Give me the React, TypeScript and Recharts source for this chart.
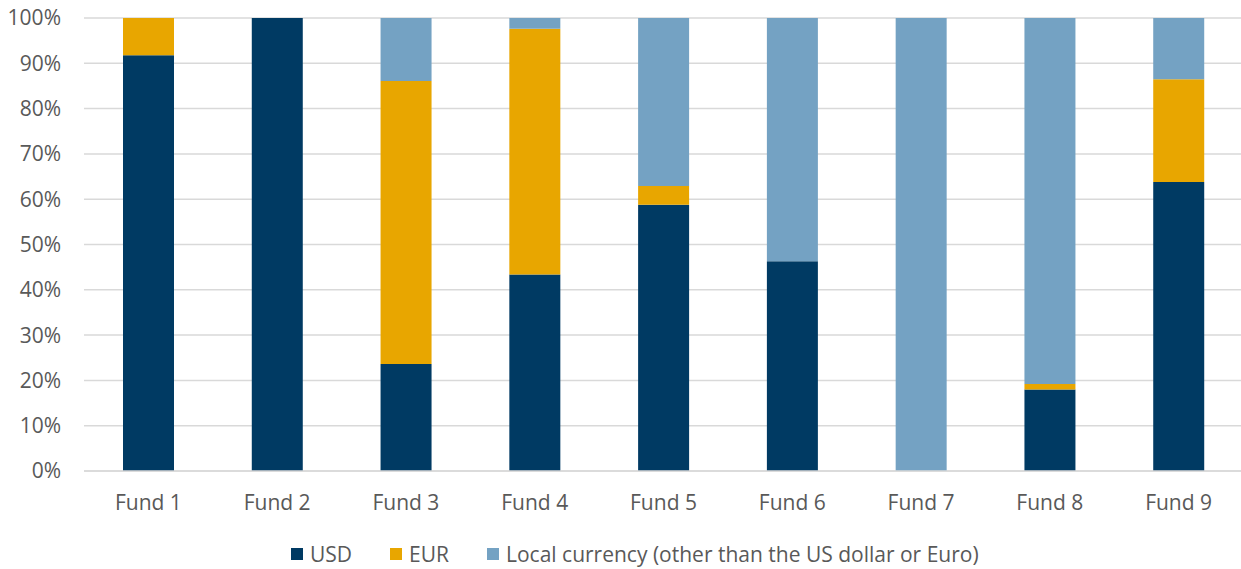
import React from "react";
import { BarChart, Bar, XAxis, YAxis, CartesianGrid, Legend } from "recharts";

const categories = ["Fund 1", "Fund 2", "Fund 3", "Fund 4", "Fund 5", "Fund 6", "Fund 7", "Fund 8", "Fund 9"];
const usd = [91.8, 100, 23.6, 43.4, 58.8, 46.3, 0, 18.0, 63.8];
const eur = [8.2, 0, 62.5, 54.2, 4.1, 0, 0, 1.2, 22.7];
const local = [0, 0, 13.9, 2.4, 37.1, 53.7, 100, 80.8, 13.5];
const yTicks = [0, 10, 20, 30, 40, 50, 60, 70, 80, 90, 100];

const seriesNames = ["USD", "EUR", "Local currency (other than the US dollar or Euro)"];
const colors = ["#003A63", "#E8A600", "#74A2C3"];

const data = categories.map((c, i) => ({ name: c, usd: usd[i], eur: eur[i], local: local[i] }));

const FONT = "'Open Sans', sans-serif";
const TEXT = "#595959";

const LegendContent = () => (
  <div style={{ display: "flex", alignItems: "center", paddingLeft: 291, fontFamily: FONT, fontSize: 21, color: TEXT, height: 30 }}>
    {seriesNames.map((n, i) => (
      <div key={n} style={{ display: "flex", alignItems: "center", marginRight: i < seriesNames.length - 1 ? 38 : 0 }}>
        <div style={{ width: 12, height: 12, background: colors[i], marginRight: 7 }} />
        <span style={{ whiteSpace: "nowrap" }}>{n}</span>
      </div>
    ))}
  </div>
);

export default function App() {
  return (
    <div style={{ position: "absolute", left: 0, top: 0, width: 1241, height: 569, overflow: "hidden", background: "#fff" }}>
      <BarChart width={1243} height={569} data={data} margin={{ top: 18, right: 0, left: 0, bottom: 0 }}>
        <CartesianGrid vertical={false} stroke="#D9D9D9" strokeWidth={1.5} />
        <XAxis
          dataKey="name"
          height={68}
          tickLine={false}
          tickSize={0}
          tickMargin={24}
          axisLine={{ stroke: "#D9D9D9", strokeWidth: 1.5 }}
          tick={{ fill: TEXT, fontSize: 21, fontFamily: FONT }}
        />
        <YAxis
          width={84}
          domain={[0, 100]}
          ticks={yTicks}
          axisLine={false}
          tickLine={false}
          tickSize={0}
          tickMargin={23}
          tickFormatter={(v: number) => `${v}%`}
          tick={{ fill: TEXT, fontSize: 21, fontFamily: FONT }}
        />
        <Legend verticalAlign="bottom" height={30} content={<LegendContent />} />
        <Bar dataKey="usd" name={seriesNames[0]} stackId="a" fill={colors[0]} barSize={51} isAnimationActive={false} />
        <Bar dataKey="eur" name={seriesNames[1]} stackId="a" fill={colors[1]} barSize={51} isAnimationActive={false} />
        <Bar dataKey="local" name={seriesNames[2]} stackId="a" fill={colors[2]} barSize={51} isAnimationActive={false} />
      </BarChart>
    </div>
  );
}
